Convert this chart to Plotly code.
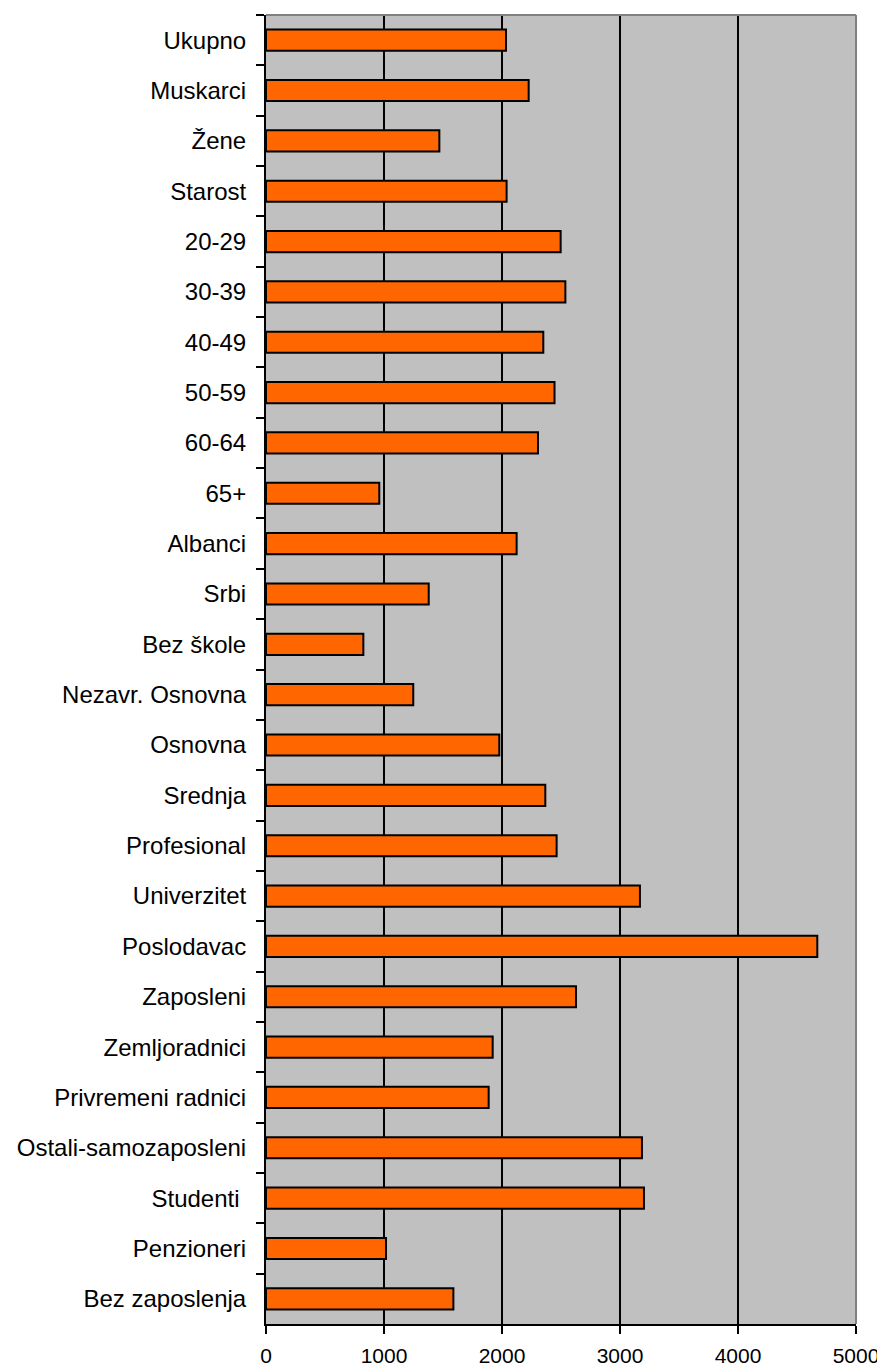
import plotly.graph_objects as go

categories = ["Ukupno", "Muskarci", "Žene", "Starost", "20-29", "30-39", "40-49",
              "50-59", "60-64", "65+", "Albanci", "Srbi", "Bez škole",
              "Nezavr. Osnovna", "Osnovna", "Srednja", "Profesional", "Univerzitet",
              "Poslodavac", "Zaposleni", "Zemljoradnici", "Privremeni radnici",
              "Ostali-samozaposleni", "Studenti ", "Penzioneri", "Bez zaposlenja"]
values = [2034, 2226, 1469, 2039, 2497, 2537, 2350, 2445, 2305, 960, 2124, 1379, 825,
          1248, 1977, 2367, 2463, 3169, 4672, 2627, 1921, 1887, 3186, 3203, 1017, 1588]
x_ticks = [0, 1000, 2000, 3000, 4000, 5000]

FONT = "Liberation Sans, Arial, sans-serif"

fig = go.Figure(go.Bar(
    y=categories, x=values, orientation="h",
    marker=dict(color="#FF6600", line=dict(color="black", width=2)),
    width=0.42,
))

fig.update_layout(
    width=877, height=1363,
    margin=dict(l=258, r=29, t=7, b=47),
    plot_bgcolor="#C0C0C0", paper_bgcolor="white",
    showlegend=False,
    font=dict(family=FONT, color="black"),
    xaxis=dict(range=[0, 5000], tickvals=x_ticks, ticktext=[str(v) for v in x_ticks],
               showgrid=True, gridcolor="black", gridwidth=2,
               showline=True, linecolor="black", linewidth=2,
               ticks="outside", ticklen=8, tickwidth=2, tickcolor="black",
               ticklabelstandoff=4, automargin=False,
               tickfont=dict(size=21, family=FONT), zeroline=False, fixedrange=True),
    yaxis=dict(autorange="reversed", type="category", tickson="boundaries",
               showgrid=False, showline=True, linecolor="black", linewidth=2,
               ticks="outside", ticklen=8, tickwidth=2, tickcolor="black",
               ticklabelstandoff=13, automargin=False,
               tickfont=dict(size=24, family=FONT), fixedrange=True),
    shapes=[
        dict(type="line", xref="paper", yref="paper", x0=0, x1=1, y0=1, y1=1,
             line=dict(color="#808080", width=2), layer="above"),
        dict(type="line", xref="paper", yref="paper", x0=1, x1=1, y0=0, y1=1,
             line=dict(color="#808080", width=2), layer="above"),
    ],
)

fig.write_html("out.html")
